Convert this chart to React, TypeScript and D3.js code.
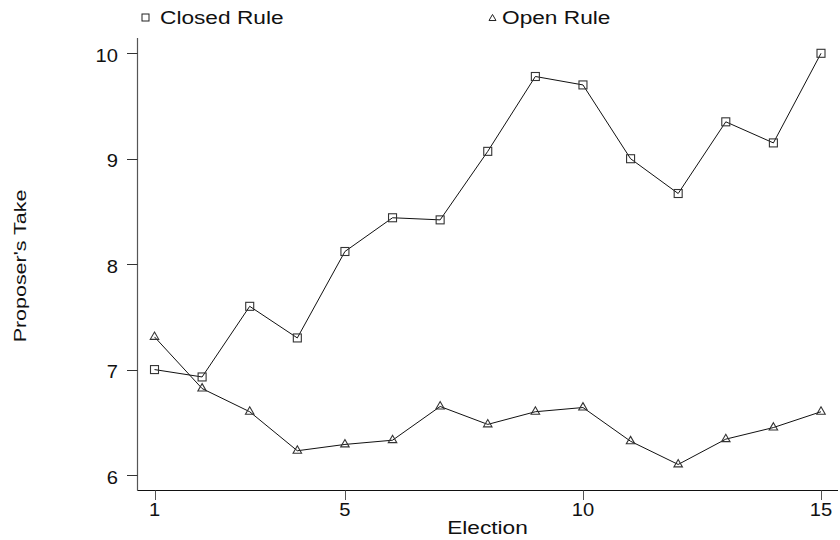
import React from "react";
import * as d3 from "d3";

const elections = [1, 2, 3, 4, 5, 6, 7, 8, 9, 10, 11, 12, 13, 14, 15];
const closedRule = [7.0, 6.93, 7.6, 7.3, 8.12, 8.44, 8.42, 9.07, 9.78, 9.7, 9.0, 8.67, 9.35, 9.15, 10.0];
const openRule = [7.31, 6.82, 6.6, 6.23, 6.29, 6.33, 6.65, 6.48, 6.6, 6.64, 6.32, 6.1, 6.34, 6.45, 6.6];
const xTicks = [1, 5, 10, 15];
const yTicks = [6, 7, 8, 9, 10];
const seriesNames = ["Closed Rule", "Open Rule"];

const FONT = "'Liberation Sans', Arial, Helvetica, sans-serif";
const SX = 1.22;

export default function App() {
  const x = d3.scaleLinear().domain([1, 15]).range([154.5, 821]);
  const y = d3.scaleLinear().domain([6, 10]).range([475, 53.3]);
  const line = d3
    .line<number>()
    .x((_, i) => x(elections[i]))
    .y((d) => y(d));

  const axisX = 137.5;
  const axisY = 490.5;

  const tri = (cx: number, cy: number, s: number) => {
    const h = s * 0.866;
    return `M${cx},${cy - (2 * h) / 3}L${cx + s / 2},${cy + h / 3}L${cx - s / 2},${cy + h / 3}Z`;
  };

  return (
    <svg
      width={840}
      height={540}
      style={{ position: "absolute", left: 0, top: 0, background: "#fff" }}
      fontFamily={FONT}
    >
      <rect width={840} height={540} fill="#fff" />
      {/* Legend */}
      <rect x={142} y={14} width={7} height={7} fill="none" stroke="#222" strokeWidth={1} />
      <text transform={`translate(160,24) scale(${SX},1)`} fontSize={18.6} fill="#111">
        {seriesNames[0]}
      </text>
      <path d={tri(492.5, 18.5, 7)} fill="none" stroke="#222" strokeWidth={1} />
      <text transform={`translate(502,24) scale(${SX},1)`} fontSize={18.6} fill="#111">
        {seriesNames[1]}
      </text>

      {/* Y axis */}
      <line x1={axisX} x2={axisX} y1={38} y2={axisY} stroke="#555" strokeWidth={1.2} />
      {yTicks.map((t) => (
        <g key={"y" + t}>
          <line x1={127} x2={axisX} y1={Math.round(y(t)) + 0.5} y2={Math.round(y(t)) + 0.5} stroke="#333" />
          <text
            transform={`translate(118,${y(t) + 8.5}) scale(1.12,1)`}
            textAnchor="end"
            fontSize={18}
            fill="#111"
          >
            {t}
          </text>
        </g>
      ))}

      {/* X axis */}
      <line x1={axisX} x2={838} y1={axisY} y2={axisY} stroke="#111" strokeWidth={1} />
      {xTicks.map((t) => (
        <g key={"x" + t}>
          <line x1={Math.round(x(t)) + 0.5} x2={Math.round(x(t)) + 0.5} y1={axisY} y2={500} stroke="#555" />
          <text
            transform={`translate(${x(t)},516) scale(1.12,1)`}
            textAnchor="middle"
            fontSize={18}
            fill="#111"
          >
            {t}
          </text>
        </g>
      ))}

      {/* Axis titles */}
      <text transform={`translate(487.5,534) scale(${SX},1)`} textAnchor="middle" fontSize={18.6} fill="#111">
        Election
      </text>
      <text transform={`translate(26,266) rotate(-90) scale(1.3,1)`} textAnchor="middle" fontSize={16.5} fill="#111">
        Proposer's Take
      </text>

      {/* Lines */}
      <path d={line(closedRule) || ""} fill="none" stroke="#111" strokeWidth={1} />
      <path d={line(openRule) || ""} fill="none" stroke="#111" strokeWidth={1} />

      {/* Markers */}
      {closedRule.map((v, i) => (
        <rect
          key={"c" + i}
          x={x(elections[i]) - 4}
          y={y(v) - 4}
          width={8}
          height={8}
          fill="none"
          stroke="#333"
          strokeWidth={1.1}
        />
      ))}
      {openRule.map((v, i) => (
        <path key={"o" + i} d={tri(x(elections[i]), y(v), 8.5)} fill="none" stroke="#333" strokeWidth={1.1} />
      ))}
    </svg>
  );
}
